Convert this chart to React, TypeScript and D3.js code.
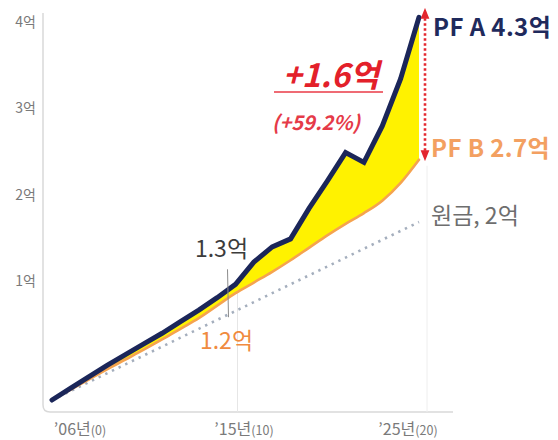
import React from 'react';
import * as d3 from 'd3';

// Years since the first contribution ('06 = 0 … '25 = 20)
const years = [0, 1, 2, 3, 4, 5, 6, 7, 8, 9, 10, 11, 12, 13, 14, 15, 16, 17, 18, 19, 20];

// Accumulated value in 억원
const pfA = [0, 0.13, 0.26, 0.39, 0.51, 0.63, 0.75, 0.88, 1.01, 1.15, 1.3, 1.55, 1.72, 1.81, 2.15, 2.46, 2.78, 2.67, 3.08, 3.61, 4.3];
const pfB = [0, 0.115, 0.23, 0.345, 0.455, 0.565, 0.68, 0.8, 0.92, 1.06, 1.2, 1.32, 1.44, 1.57, 1.71, 1.85, 1.98, 2.1, 2.24, 2.44, 2.7];
const principal = [0, 0.1, 0.2, 0.3, 0.4, 0.5, 0.6, 0.7, 0.8, 0.9, 1.0, 1.1, 1.2, 1.3, 1.4, 1.5, 1.6, 1.7, 1.8, 1.9, 2.0];

const yTickValues = [1, 2, 3, 4];
const yTickLabels = ['1억', '2억', '3억', '4억'];
const xTickLabels = ['’06년', '’15년', '’25년'];
const xTickSubs = ['(0)', '(10)', '(20)'];

const FONT = '"Noto Sans CJK KR", "Noto Sans", sans-serif';

export default function App() {
  const W = 558;
  const H = 440;

  const x = d3.scaleLinear().domain([0, 20]).range([52, 419]);
  const y = d3.scaleLinear().domain([0, 4]).range([400, 44]);
  // the value labels on the left axis sit on their own band
  const yAxis = d3.scaleLinear().domain([1, 4]).range([280, 21]);
  const xLabelPos = d3.scalePoint<string>().domain(xTickLabels).range([80, 408]);

  const rows = years.map((yr, i) => ({ yr, a: pfA[i], b: pfB[i], p: principal[i] }));
  type Row = (typeof rows)[0];

  const lineA = d3.line<Row>().x(d => x(d.yr)).y(d => y(d.a)).curve(d3.curveLinear);
  const lineB = d3.line<Row>().x(d => x(d.yr)).y(d => y(d.b)).curve(d3.curveMonotoneX);
  const lineP = d3.line<Row>().x(d => x(d.yr)).y(d => y(d.p));
  const gap = d3
    .area<Row>()
    .x(d => x(d.yr))
    .y0(d => y(d.b))
    .y1(d => y(d.a))
    .curve(d3.curveLinear);

  const last = rows.length - 1;
  const endA = pfA[last];
  const endB = pfB[last];
  const arrowX = x(20) + 6;
  const x10 = x(10);

  return (
    <svg
      width={W}
      height={H}
      viewBox={`0 0 ${W} ${H}`}
      style={{ position: 'absolute', left: 0, top: 0, background: '#fff' }}
      fontFamily={FONT}
    >
      <defs>
        <marker id="redHead" viewBox="0 0 10 10" refX="5" refY="5" markerWidth="4.2" markerHeight="4.2" orient="auto-start-reverse">
          <path d="M0,1 L10,5 L0,9 Z" fill="#e3262e" />
        </marker>
      </defs>

      {/* axes frame */}
      <path d="M43,13 V405 Q43,412 50,412 H453" fill="none" stroke="#d9d9d9" strokeWidth={1.5} />

      {/* drop lines */}
      <line x1={x10 + 2} x2={x10 + 2} y1={y(pfA[10]) + 4} y2={412} stroke="#e6e6e6" strokeWidth={1} />
      <line x1={arrowX + 2} x2={arrowX + 2} y1={y(endB) + 6} y2={412} stroke="#eeeeee" strokeWidth={1} />

      {/* y tick labels */}
      {yTickValues.map((v, i) => (
        <text key={v} x={36} y={yAxis(v)} textAnchor="end" dominantBaseline="central" fontSize={14} fill="#7a7a7a">
          {yTickLabels[i]}
        </text>
      ))}

      {/* x tick labels */}
      {xTickLabels.map((t, i) => (
        <text key={t} x={xLabelPos(t)} y={435} textAnchor="middle" fontSize={16} fill="#7a7a7a">
          {t}
          <tspan fontSize={12.5}>{xTickSubs[i]}</tspan>
        </text>
      ))}

      {/* principal */}
      <path d={lineP(rows) || ''} fill="none" stroke="#a4aebd" strokeWidth={2.6} strokeDasharray="2.4 5" />

      {/* gap between the two portfolios */}
      <path d={gap(rows) || ''} fill="#fff200" />
      <path d={lineB(rows) || ''} fill="none" stroke="#f5a34f" strokeWidth={2.6} strokeLinecap="round" />
      <path d={lineA(rows) || ''} fill="none" stroke="#1b2659" strokeWidth={5} strokeLinejoin="miter" strokeLinecap="round" />

      {/* difference arrow */}
      <line
        x1={arrowX}
        x2={arrowX}
        y1={y(endB) - 4}
        y2={y(endA) - 4}
        stroke="#e3262e"
        strokeWidth={2.6}
        strokeDasharray="2.5 2.5"
        markerStart="url(#redHead)"
        markerEnd="url(#redHead)"
      />

      {/* year-10 callouts */}
      <line x1={x10 - 8} x2={x10 - 7} y1={y(1.3) - 15} y2={y(1.2) + 24} stroke="#8c8c8c" strokeWidth={1} />
      <text x={x10 - 14} y={y(1.3) - 27} textAnchor="middle" fontSize={23} fill="#3c3c3c">
        1.3억
      </text>
      <text x={x10 - 9} y={y(1.2) + 56} textAnchor="middle" fontSize={23} fill="#f08b3f">
        1.2억
      </text>

      {/* end labels */}
      <text x={433} y={36} fontSize={24} fontWeight={700} fill="#1f2a5c" letterSpacing={0.4}>
        PF A 4.3억
      </text>
      <text x={431} y={157} fontSize={24} fontWeight={700} fill="#f3a061" letterSpacing={0.4}>
        PF B 2.7억
      </text>
      <text x={431} y={224} fontSize={23} fill="#6e6e6e">
        원금, 2억
      </text>

      {/* difference callout */}
      <text x={331} y={87} textAnchor="middle" fontSize={32} fontWeight={700} fontStyle="italic" fill="#e3202a">
        +1.6억
      </text>
      <line x1={274} x2={383} y1={92} y2={92} stroke="#ef6b74" strokeWidth={2} />
      <text x={316} y={130} textAnchor="middle" fontSize={20} fontWeight={700} fontStyle="italic" fill="#e53a48">
        (+59.2%)
      </text>
    </svg>
  );
}
